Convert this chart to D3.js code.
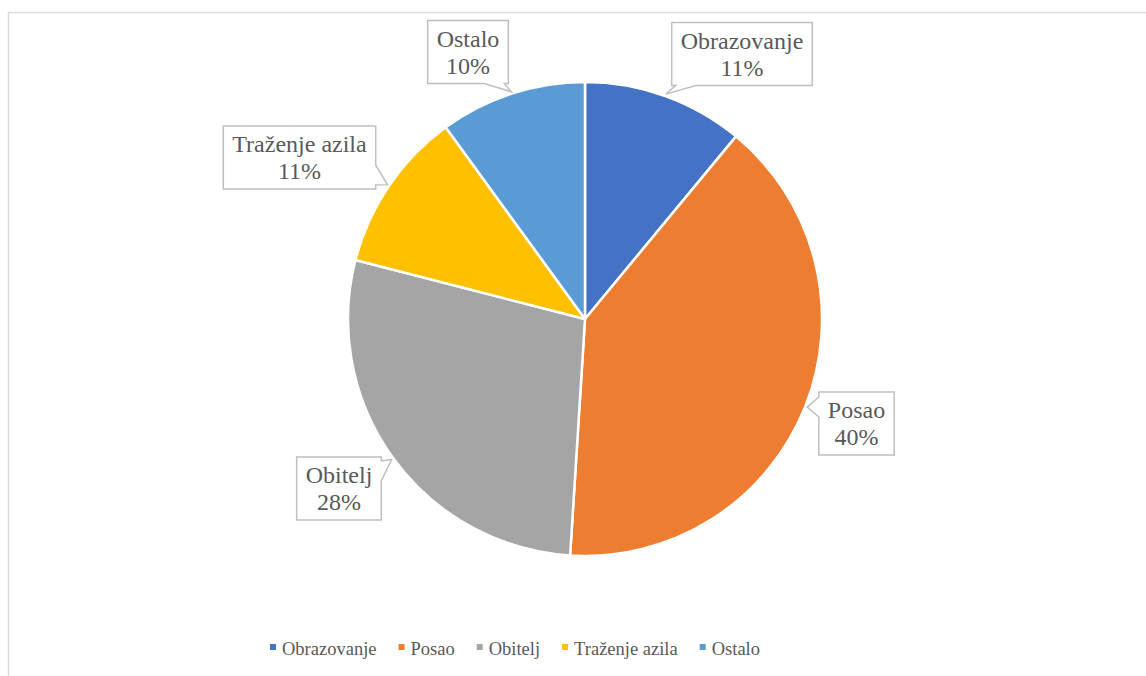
<!DOCTYPE html>
<html>
<head>
<meta charset="utf-8">
<script src="https://cdn.jsdelivr.net/npm/d3@7"></script>
<style>
  html, body { margin: 0; padding: 0; background: #fff; }
  svg { display: block; }
  svg text { font-family: "Liberation Serif", "Times New Roman", Times, "DejaVu Serif", serif; }
</style>
</head>
<body>
<svg id="chart" width="1146" height="676"></svg>
<script>
// ---- data ----
const categories = ["Obrazovanje", "Posao", "Obitelj", "Traženje azila", "Ostalo"];
const values = [11, 40, 28, 11, 10];
const colors = ["#4472C4", "#ED7D31", "#A5A5A5", "#FFC000", "#5B9BD5"];

// ---- layout ----
const W = 1146, H = 676;
const cx = 585, cy = 319, R = 237;
// label box centres (layout only)
const labelCenters = [[742, 54], [856.5, 423.5], [339, 488.5], [299.5, 157.5], [468, 52]];
const textColor = "#595959";

const svg = d3.select("#chart");

// outer chart border
svg.append("rect")
  .attr("x", 8.5).attr("y", 12.5)
  .attr("width", 1300).attr("height", 800)
  .attr("fill", "#fff").attr("stroke", "#d9d9d9").attr("stroke-width", 1.5);

const total = d3.sum(values);
const pie = d3.pie().sort(null).value(d => d)(values);
const arc = d3.arc().innerRadius(0).outerRadius(R);
const tipArc = d3.arc().innerRadius(R + 2).outerRadius(R + 2);

const g = svg.append("g").attr("transform", `translate(${cx},${cy})`);
g.selectAll("path.slice").data(pie).join("path")
  .attr("class", "slice")
  .attr("d", arc)
  .attr("fill", (d, i) => colors[i])
  .attr("stroke", "#fff")
  .attr("stroke-width", 2.5)
  .attr("stroke-linejoin", "round");

// callout labels
const labelsG = svg.append("g");
pie.forEach((d, i) => {
  const [mx, my] = labelCenters[i];
  const lg = labelsG.append("g");
  const boxPath = lg.append("path");
  const t1 = lg.append("text")
    .attr("x", mx).attr("y", my - 5.5)
    .attr("text-anchor", "middle")
    .style("font-size", "24px")
    .attr("fill", textColor)
    .text(categories[i]);
  lg.append("text")
    .attr("x", mx).attr("y", my + 21.5)
    .attr("text-anchor", "middle")
    .style("font-size", "24px")
    .attr("fill", textColor)
    .text(Math.round(values[i] / total * 100) + "%");
  const tw = t1.node().getComputedTextLength();
  const bw = tw + 18, bh = 63;
  const x0 = mx - bw / 2, x1 = mx + bw / 2, y0 = my - bh / 2, y1 = my + bh / 2;
  const c = tipArc.centroid(d);
  const tx = cx + c[0], ty = cy + c[1];
  const clamp = (v, a, b) => Math.max(a, Math.min(b, v));
  let p;
  if (ty > y1) {
    const bc = clamp(tx, x0 + 14, x1 - 14);
    p = `M${x0},${y0}H${x1}V${y1}H${bc + 10}L${tx},${ty}L${bc - 10},${y1}H${x0}Z`;
  } else if (ty < y0) {
    const bc = clamp(tx, x0 + 14, x1 - 14);
    p = `M${x0},${y0}H${bc - 10}L${tx},${ty}L${bc + 10},${y0}H${x1}V${y1}H${x0}Z`;
  } else if (tx > x1) {
    const bc = clamp(ty, y0 + 14, y1 - 14);
    p = `M${x0},${y0}H${x1}V${bc - 10}L${tx},${ty}L${x1},${bc + 10}V${y1}H${x0}Z`;
  } else {
    const bc = clamp(ty, y0 + 14, y1 - 14);
    p = `M${x0},${y0}H${x1}V${y1}H${x0}V${bc + 10}L${tx},${ty}L${x0},${bc - 10}Z`;
  }
  boxPath.attr("d", p).attr("fill", "#fff")
    .attr("stroke", "#bfbfbf").attr("stroke-width", 1.5)
    .attr("stroke-linejoin", "miter");
});

// legend
const legend = svg.append("g");
let lx = 270;
const ly = 655;
categories.forEach((name, i) => {
  legend.append("rect")
    .attr("x", lx).attr("y", ly - 11).attr("width", 6).attr("height", 6)
    .attr("fill", colors[i]);
  const t = legend.append("text")
    .attr("x", lx + 12).attr("y", ly)
    .style("font-size", "18.5px")
    .attr("fill", textColor)
    .text(name);
  lx += 12 + t.node().getComputedTextLength() + 22;
});
</script>
</body>
</html>
